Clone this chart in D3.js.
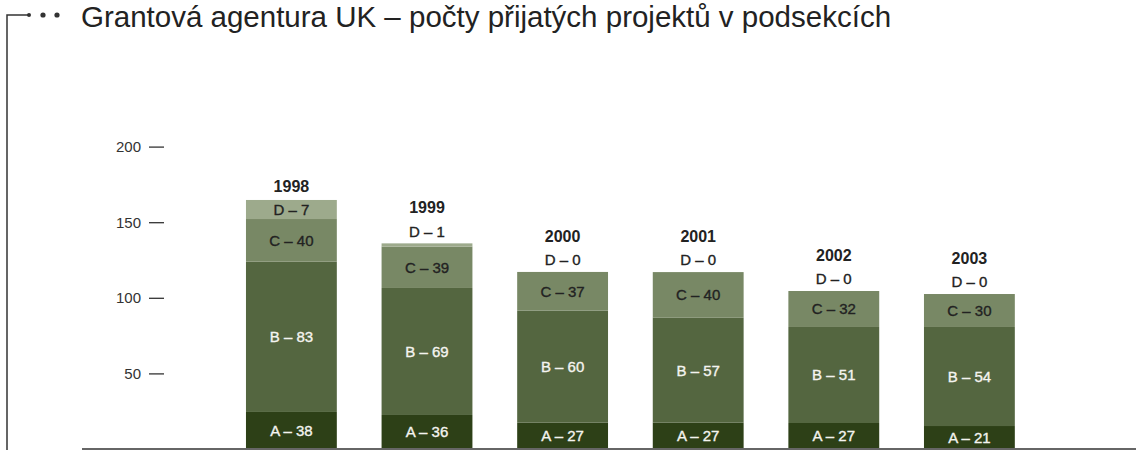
<!DOCTYPE html>
<html>
<head>
<meta charset="utf-8">
<script src="https://cdn.jsdelivr.net/npm/d3@7"></script>
<style>
  html, body { margin: 0; padding: 0; background: #fff; }
  svg { display: block; }
  text { font-family: "Liberation Sans", Arial, sans-serif; }
</style>
</head>
<body>
<svg id="chart" width="1136" height="450"></svg>
<script>
// ---- data ----
const years = ["1998", "1999", "2000", "2001", "2002", "2003"];
// printed numbers on the segments
const labelA = [38, 36, 27, 27, 27, 21];
const labelB = [83, 69, 60, 57, 51, 54];
const labelC = [40, 39, 37, 40, 32, 30];
const labelD = [7, 1, 0, 0, 0, 0];
// segment heights as drawn in the reference (read against the y axis)
const segA = [24.5, 22.5, 17.4, 17.4, 17.2, 15.2];
const segB = [99.4, 84.0, 74.1, 69.4, 63.5, 65.5];
const segC = [28.2, 27.3, 25.6, 30.2, 23.8, 21.8];
const segD = [12.6, 2.2, 0, 0, 0, 0];
const seriesNames = ["A", "B", "C", "D"];
const yTicks = [50, 100, 150, 200];
const title = "Grantová agentura UK – počty přijatých projektů v podsekcích";

// ---- styles ----
const colors = { A: "#2d4017", B: "#546640", C: "#788865", D: "#9daa8c" };
const textColors = { A: "#f4f4f0", B: "#f4f4f0", C: "#222", D: "#222" };

const svg = d3.select("#chart");

const rows = years.map((yr, i) => ({
  year: yr, A: segA[i], B: segB[i], C: segC[i], D: segD[i],
  lA: labelA[i], lB: labelB[i], lC: labelC[i], lD: labelD[i]
}));
const stacked = d3.stack().keys(seriesNames)(rows);

const x = d3.scaleBand().domain(years).range([223.6, 1037.2])
  .paddingInner(0.33).paddingOuter(0.165);
const y = d3.scaleLinear().domain([0, 200]).range([449, 146.6]);

// bracket decoration
const by = 15;
svg.append("path")
  .attr("d", `M7,450 V${by} H28`)
  .attr("fill", "none").attr("stroke", "#333").attr("stroke-width", 1.5);
svg.append("circle").attr("cx", 29).attr("cy", by).attr("r", 2).attr("fill", "#333");
[43, 57].forEach(cx => svg.append("circle").attr("cx", cx).attr("cy", by).attr("r", 2.6).attr("fill", "#333"));

// title
svg.append("text").attr("x", 81).attr("y", 27)
  .attr("font-size", 29.5).attr("fill", "#222").text(title);

// y axis
const yAxis = svg.append("g").attr("transform", "translate(164,0)")
  .call(d3.axisLeft(y).tickValues(yTicks).tickSize(15).tickPadding(8));
yAxis.select(".domain").remove();
yAxis.selectAll(".tick line").attr("stroke", "#333").attr("stroke-width", 1.3);
yAxis.selectAll(".tick text").attr("font-size", 15).attr("fill", "#333")
  .attr("font-family", "'Liberation Sans', Arial, sans-serif");

// bars
const layers = svg.append("g").selectAll("g").data(stacked).join("g")
  .attr("fill", d => colors[d.key]);
layers.selectAll("rect").data(d => d.map(v => ({ v, key: d.key }))).join("rect")
  .attr("x", d => x(d.v.data.year))
  .attr("width", x.bandwidth())
  .attr("y", d => y(d.v[1]))
  .attr("height", d => y(d.v[0]) - y(d.v[1]));

// baseline
svg.append("line").attr("x1", 82).attr("x2", 1136).attr("y1", 449).attr("y2", 449)
  .attr("stroke", "#666").attr("stroke-width", 2);

// labels
const lab = svg.append("g").attr("text-anchor", "middle");
function segLabel(cx, cy, txt, col) {
  lab.append("text").attr("x", cx).attr("y", cy).attr("dy", "0.36em")
    .attr("font-size", 15).attr("fill", col)
    .attr("stroke", col).attr("stroke-width", 0.35).text(txt);
}
function yearLabel(cx, cy, txt) {
  lab.append("text").attr("x", cx).attr("y", cy).attr("dy", "0.36em")
    .attr("font-size", 16).attr("font-weight", "bold").attr("fill", "#222").text(txt);
}
stacked.forEach(layer => {
  layer.forEach(v => {
    const key = layer.key;
    const cx = x(v.data.year) + x.bandwidth() / 2;
    const h = y(v[0]) - y(v[1]);
    const txt = key + " – " + v.data["l" + key];
    if (key === "D" && h < 10) {
      segLabel(cx, y(v[1]) - 12, txt, textColors.D);
      yearLabel(cx, y(v[1]) - 36, v.data.year);
    } else {
      segLabel(cx, (y(v[0]) + y(v[1])) / 2, txt, textColors[key]);
      if (key === "D") yearLabel(cx, y(v[1]) - 14, v.data.year);
    }
  });
});
</script>
</body>
</html>
